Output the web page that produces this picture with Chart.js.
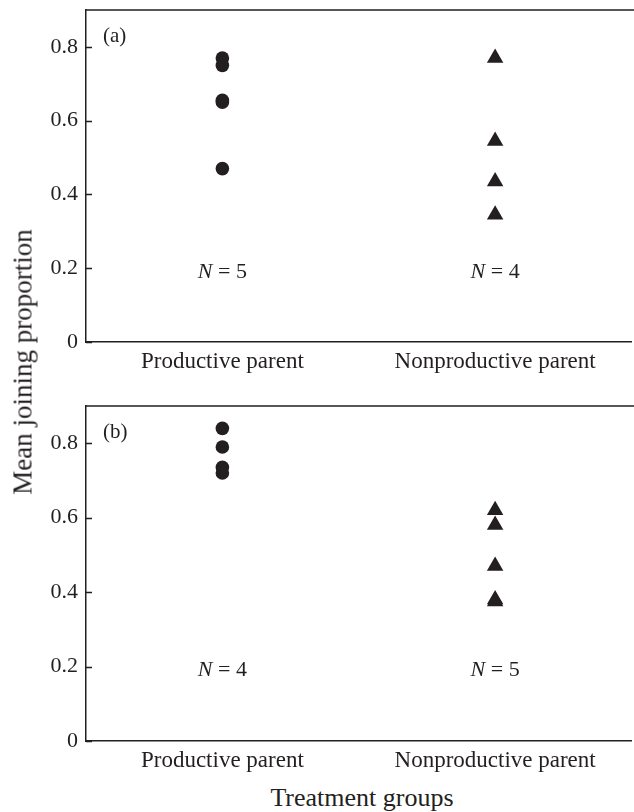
<!DOCTYPE html>
<html>
<head>
<meta charset="utf-8">
<script src="https://cdn.jsdelivr.net/npm/chart.js@4/dist/chart.umd.min.js"></script>
<style>
  html, body { margin: 0; padding: 0; background: #fff; }
  body { width: 634px; height: 812px; position: relative; overflow: hidden; font-family: "Liberation Serif", serif; color: #231f20; }
  .panel { position: absolute; left: 0; width: 641px; }
  #yTitle { position: absolute; left: 23px; top: 362px; transform: translate(-50%, -50%) rotate(-90deg); white-space: nowrap; font-size: 27px; }
  #xTitle { position: absolute; left: 362px; top: 798px; transform: translate(-50%, -50%); white-space: nowrap; font-size: 26px; }
</style>
</head>
<body>
<div class="panel" style="top:0;height:376px"><canvas id="chartA"></canvas></div>
<div class="panel" style="top:396px;height:379px"><canvas id="chartB"></canvas></div>
<div id="yTitle">Mean joining proportion</div>
<div id="xTitle">Treatment groups</div>
<script>
// ---------- Data ----------
const groups = ["Productive parent", "Nonproductive parent"];
const yTicks = [0, 0.2, 0.4, 0.6, 0.8];
const productiveA = [0.77, 0.75, 0.655, 0.65, 0.47];
const nonproductiveA = [0.77, 0.545, 0.435, 0.345];
const productiveB = [0.84, 0.79, 0.735, 0.72];
const nonproductiveB = [0.62, 0.58, 0.47, 0.38, 0.375];

const INK = "#231f20";
const FONT = "Liberation Serif";
const FS = 22;

// frame line on top, inward y ticks, panel letter, N labels
const decor = {
  id: "decor",
  afterDraw(chart, args, opts) {
    const { ctx, chartArea: a, scales } = chart;
    ctx.save();
    ctx.strokeStyle = INK;
    ctx.lineWidth = 1.5;
    ctx.beginPath();
    ctx.moveTo(a.left, a.top);
    ctx.lineTo(chart.width, a.top);
    yTicks.forEach(v => {
      const y = Math.round(scales.y.getPixelForValue(v)) + 0.5;
      ctx.moveTo(a.left, y);
      ctx.lineTo(a.left + 6, y);
    });
    ctx.stroke();

    ctx.fillStyle = INK;
    ctx.textBaseline = "middle";
    ctx.font = "21px " + FONT;
    ctx.fillText(opts.letter, a.left + 17, a.top + 26);

    chart.data.datasets.forEach(ds => {
      const cx = scales.x.getPixelForValue(ds.data[0].x);
      const cy = scales.y.getPixelForValue(0.19);
      const head = "N";
      const tail = " = " + ds.data.length;
      ctx.font = "italic " + FS + "px " + FONT;
      const w1 = ctx.measureText(head).width;
      ctx.font = FS + "px " + FONT;
      const w2 = ctx.measureText(tail).width;
      const x0 = cx - (w1 + w2) / 2;
      ctx.font = "italic " + FS + "px " + FONT;
      ctx.fillText(head, x0, cy);
      ctx.font = FS + "px " + FONT;
      ctx.fillText(tail, x0 + w1, cy);
    });
    ctx.restore();
  }
};

function makePanel(id, letter, circles, triangles) {
  const pts = (vals, x) => vals.map(v => ({ x: x, y: v }));
  return new Chart(document.getElementById(id), {
    type: "scatter",
    data: {
      datasets: [
        { data: pts(circles, 1), pointStyle: "circle", pointRadius: 6.8, backgroundColor: INK, borderWidth: 0 },
        { data: pts(triangles, 2), pointStyle: "triangle", pointRadius: 9.5, backgroundColor: INK, borderWidth: 0 }
      ]
    },
    options: {
      responsive: true,
      maintainAspectRatio: false,
      animation: false,
      events: [],
      layout: { padding: { top: 10, right: 0, left: 0, bottom: 0 } },
      plugins: { legend: { display: false }, tooltip: { enabled: false }, decor: { letter } },
      scales: {
        x: {
          type: "linear", min: 0.5, max: 2.5,
          afterBuildTicks: s => { s.ticks = groups.map((g, i) => ({ value: i + 1 })); },
          afterFit: s => { s.height = 34; s.paddingLeft = 0; s.paddingRight = 0; },
          grid: { display: false, drawTicks: false },
          border: { display: true, color: INK, width: 1.5 },
          ticks: { color: INK, font: { family: FONT, size: 23 }, padding: 6, maxRotation: 0, callback: v => groups[v - 1] }
        },
        y: {
          min: 0, max: 0.9,
          afterBuildTicks: s => { s.ticks = yTicks.map(v => ({ value: v })); },
          afterFit: s => { s.width = 86; s.paddingTop = 0; s.paddingBottom = 0; },
          grid: { display: false, drawTicks: false },
          border: { display: true, color: INK, width: 1.5 },
          ticks: { color: INK, font: { family: FONT, size: FS }, padding: 8, callback: v => v === 0 ? "0" : v.toFixed(1) }
        }
      }
    },
    plugins: [decor]
  });
}

makePanel("chartA", "(a)", productiveA, nonproductiveA);
makePanel("chartB", "(b)", productiveB, nonproductiveB);
</script>
</body>
</html>
